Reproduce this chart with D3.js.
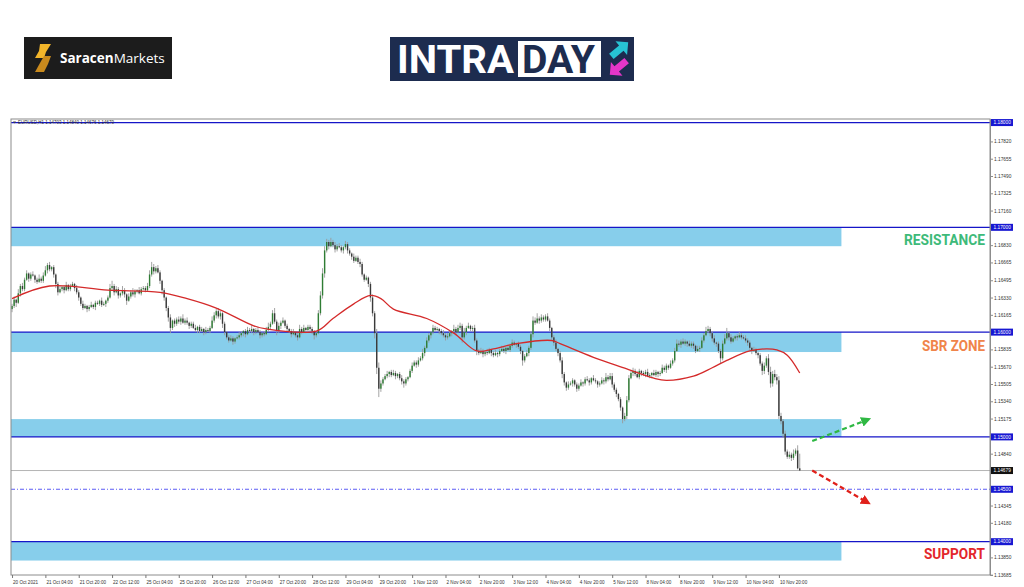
<!DOCTYPE html>
<html>
<head>
<meta charset="utf-8">
<script src="https://cdn.jsdelivr.net/npm/d3@7"></script>
<style>
  body { margin: 0; background: #fff; }
  svg { display: block; font-family: "Liberation Sans", sans-serif; }
</style>
</head>
<body>
<div id="chart"></div>
<script>
// EURUSD H1, bars counted from 20 Oct 2021 00:00 (weekends skipped)
const firstOpen = 1.1622;
const closes = [
  1.1625,1.1631,1.1628,1.1637,1.1644,1.1641,1.1650,1.1656,1.1651,1.1655,1.1654,1.1650,1.1648,1.1651,1.1649,1.1654,
  1.1659,1.1664,1.1660,1.1662,1.1655,1.1646,1.1638,1.1641,1.1643,1.1640,1.1645,1.1641,1.1644,1.1646,1.1642,1.1638,
  1.1633,1.1627,1.1623,1.1625,1.1622,1.1624,1.1626,1.1624,1.1628,1.1627,1.1630,1.1626,1.1627,1.1630,1.1633,1.1642,
  1.1644,1.1638,1.1641,1.1635,1.1637,1.1640,1.1636,1.1630,1.1634,1.1638,1.1636,1.1639,1.1640,1.1637,1.1641,1.1642,
  1.1640,1.1644,1.1655,1.1662,1.1658,1.1661,1.1657,1.1649,1.1640,1.1633,1.1623,1.1614,1.1604,1.1611,1.1608,1.1612,
  1.1610,1.1613,1.1609,1.1611,1.1609,1.1606,1.1608,1.1604,1.1602,1.1605,1.1601,1.1603,1.1600,1.1602,1.1601,1.1604,
  1.1611,1.1616,1.1620,1.1615,1.1618,1.1608,1.1600,1.1595,1.1592,1.1594,1.1591,1.1594,1.1595,1.1597,1.1599,1.1601,
  1.1598,1.1602,1.1601,1.1603,1.1600,1.1602,1.1600,1.1597,1.1599,1.1598,1.1602,1.1605,1.1608,1.1618,1.1610,1.1601,
  1.1606,1.1609,1.1611,1.1606,1.1603,1.1601,1.1598,1.1600,1.1597,1.1595,1.1603,1.1600,1.1604,1.1602,1.1605,1.1603,
  1.1601,1.1597,1.1599,1.1618,1.1635,1.1656,1.1678,1.1686,1.1682,1.1686,1.1683,1.1679,1.1682,1.1681,1.1678,1.1681,
  1.1684,1.1678,1.1675,1.1672,1.1668,1.1671,1.1667,1.1665,1.1655,1.1650,1.1652,1.1646,1.1633,1.1618,1.1599,1.1566,
  1.1546,1.1551,1.1555,1.1558,1.1560,1.1562,1.1559,1.1561,1.1558,1.1560,1.1556,1.1553,1.1551,1.1555,1.1557,1.1563,
  1.1568,1.1571,1.1569,1.1573,1.1575,1.1580,1.1585,1.1592,1.1597,1.1600,1.1604,1.1602,1.1603,1.1601,1.1599,1.1597,
  1.1595,1.1596,1.1599,1.1601,1.1603,1.1600,1.1604,1.1606,1.1595,1.1600,1.1604,1.1606,1.1603,1.1604,1.1592,1.1582,
  1.1580,1.1582,1.1579,1.1581,1.1580,1.1583,1.1580,1.1578,1.1580,1.1579,1.1582,1.1584,1.1582,1.1585,1.1583,1.1587,
  1.1590,1.1588,1.1589,1.1586,1.1582,1.1573,1.1577,1.1580,1.1585,1.1598,1.1611,1.1609,1.1613,1.1611,1.1614,1.1612,
  1.1615,1.1611,1.1604,1.1595,1.1590,1.1584,1.1580,1.1573,1.1560,1.1552,1.1547,1.1550,1.1551,1.1554,1.1550,1.1546,
  1.1549,1.1552,1.1551,1.1555,1.1554,1.1552,1.1556,1.1554,1.1553,1.1550,1.1551,1.1554,1.1553,1.1557,1.1555,1.1558,
  1.1550,1.1545,1.1541,1.1536,1.1528,1.1517,1.1520,1.1535,1.1556,1.1561,1.1563,1.1560,1.1557,1.1563,1.1561,1.1560,
  1.1562,1.1558,1.1559,1.1561,1.1559,1.1562,1.1560,1.1561,1.1566,1.1564,1.1568,1.1566,1.1570,1.1573,1.1582,1.1589,
  1.1588,1.1591,1.1589,1.1591,1.1589,1.1587,1.1589,1.1587,1.1582,1.1584,1.1585,1.1592,1.1597,1.1601,1.1603,1.1599,
  1.1594,1.1590,1.1589,1.1582,1.1575,1.1589,1.1594,1.1599,1.1595,1.1591,1.1594,1.1596,1.1595,1.1597,1.1595,1.1594,
  1.1592,1.1590,1.1585,1.1582,1.1583,1.1580,1.1578,1.1570,1.1563,1.1568,1.1575,1.1562,1.1551,1.1560,1.1557,1.1554,
  1.1520,1.1515,1.1503,1.1486,1.1481,1.1483,1.1480,1.1484,1.1487,1.1470,1.14679
];
// wick lengths in pips above / below the body
const wickUp = [
  2,3,1,4,2,3,2,3,1,2,3,1,2,4,2,3, 4,2,3,1,2,1,2,3,1,2,3,1,2,2,1,3,
  2,1,3,2,1,2,3,1,2,2,1,3,2,1,2,4, 5,2,3,2,1,4,2,1,3,2,4,2,1,3,2,2,
  2,3,4,5,3,2,3,2,1,2,1,2,3,1,2,2, 3,2,4,2,3,1,2,2,3,1,2,2,1,3,2,2,
  4,3,2,3,2,1,2,1,2,3,2,1,2,3,2,1, 2,3,2,4,1,2,3,2,1,2,3,4,2,3,5,2,
  3,2,3,1,2,1,2,3,1,2,4,2,3,1,2,2, 2,1,2,3,4,5,4,3,2,4,2,3,2,3,2,1,
  3,2,2,1,3,2,2,3,2,1,2,1,2,3,2,4, 5,3,2,2,3,1,2,3,2,1,2,3,2,2,1,2,
  3,2,2,3,2,4,2,3,2,1,3,2,2,1,2,3, 2,3,2,1,4,2,3,3,2,4,2,3,1,2,3,2,
  2,3,2,1,3,2,1,2,3,1,2,3,2,1,3,2, 3,2,1,2,2,1,2,3,2,3,4,3,5,2,3,2,
  2,3,2,1,2,3,1,2,3,2,1,3,2,2,1,2, 2,3,1,2,3,2,1,3,2,1,2,3,2,4,2,3,
  3,2,2,1,2,1,3,4,3,2,3,2,3,2,1,2, 2,3,2,1,3,2,1,2,3,2,2,1,3,2,3,4,
  3,2,3,2,1,3,2,2,1,3,2,3,2,4,3,2, 2,3,1,2,2,3,4,5,2,3,2,1,2,3,2,2,
  3,2,2,1,3,2,1,2,2,3,2,4,5,3,4,3, 4,3,2,3,2,3,2,4,2,5,14
];
const wickDn = [
  3,2,4,1,3,2,2,1,3,2,1,3,2,1,2,2, 1,3,2,2,3,4,3,1,2,3,1,2,2,1,3,2,
  3,2,2,1,3,2,1,2,3,1,2,2,1,3,2,1, 2,3,1,3,2,2,3,4,1,2,2,3,2,1,2,1,
  2,1,2,2,3,2,1,3,4,3,3,4,5,2,3,2, 2,3,1,2,2,3,2,1,2,3,2,1,3,2,1,2,
  1,2,3,2,3,4,3,2,2,1,3,2,1,2,2,3, 3,1,2,2,3,2,1,3,2,2,1,2,3,1,2,4,
  2,3,1,2,3,2,3,1,2,3,1,2,1,3,2,2, 3,4,2,1,2,3,4,2,3,1,2,3,2,1,2,3,
  2,3,2,3,2,1,2,3,2,2,1,3,4,3,5,6, 8,3,2,1,2,3,2,1,3,2,2,3,4,2,2,1,
  2,1,3,2,1,2,3,1,2,3,2,2,1,3,2,2, 3,2,1,3,2,3,1,2,5,2,3,1,2,3,2,4,
  2,1,3,2,2,1,3,2,1,3,2,1,2,3,1,2, 2,1,3,2,3,5,2,1,3,2,3,2,1,3,2,2,
  2,1,3,2,3,2,3,2,4,3,3,2,1,3,2,3, 2,1,3,2,1,3,2,1,2,3,2,1,3,2,2,1,
  3,2,3,2,3,4,2,3,2,1,3,2,1,2,3,2, 3,1,2,3,1,2,3,2,1,2,3,2,1,2,2,1,
  2,3,1,2,3,1,2,3,2,1,3,1,2,1,2,3, 3,2,3,2,5,2,1,2,3,2,1,2,3,1,2,1,
  2,3,2,3,1,2,3,2,4,3,2,3,4,3,3,4, 3,3,4,3,2,2,3,2,2,1,0
];
// moving average, read at selected bars
const maBar = [0,18,46,71,84,98,116,122,146,154,164,172,177,183,199,212,223,231,242,259,263,279,295,308,314,327,336,343,354,362,367,372,378];
const maVal = [1.1632,1.1644,1.1640,1.1638,1.1632,1.1623,1.1606,1.1603,1.1601,1.1613,1.1627,1.1635,1.1632,1.1622,1.1613,1.1599,1.1582,1.1584,1.1589,1.1592,1.1589,1.1576,1.1565,1.1556,1.1554,1.1558,1.1566,1.1573,1.1582,1.1584,1.1583,1.1578,1.1561];

const timeLabels = ["20 Oct 2021","21 Oct 04:00","21 Oct 20:00","22 Oct 12:00","25 Oct 04:00","25 Oct 20:00","26 Oct 12:00","27 Oct 04:00","27 Oct 20:00","28 Oct 12:00","29 Oct 04:00","29 Oct 20:00","1 Nov 12:00","2 Nov 04:00","2 Nov 20:00","3 Nov 12:00","4 Nov 04:00","4 Nov 20:00","5 Nov 12:00","8 Nov 04:00","8 Nov 20:00","9 Nov 12:00","10 Nov 04:00","10 Nov 20:00"];
const timeLabelBars = timeLabels.map((d, i) => i * 16);
const priceTicks = [1.17820,1.17655,1.17490,1.17325,1.17160,1.16830,1.16665,1.16495,1.16330,1.16165,1.15835,1.15670,1.15505,1.15340,1.15175,1.14840,1.14345,1.14180,1.13850,1.13685];
const levelLines = [1.18, 1.17, 1.16, 1.15, 1.14];
const dashedLevel = 1.145;
const lastPrice = 1.14679;
const zoneTop = [1.1700, 1.1600, 1.1517, 1.1400];
const zoneBottom = [1.1682, 1.1581, 1.1500, 1.1382];
const zoneNames = ["RESISTANCE", "SBR ZONE", "", "SUPPORT"];
const zoneEndBar = 398;
// projected paths drawn after the last bar
const upArrow = [[384, 1.1496], [410, 1.1516]];
const downArrow = [[384, 1.1468], [410, 1.1438]];
const header = "EURUSD,H1  1.14703 1.14840 1.14676 1.14679";

const pip = 0.0001;
const plot = {left: 11, right: 990, top: 119, bottom: 575};
const zoneColors = ["#3dba79", "#f0844a", "none", "#e3262b"];

const svg = d3.select("#chart")
  .append("svg")
    .attr("width", 1024)
    .attr("height", 587);

// ---- logos ----
const saracen = svg.append("g");
saracen.append("rect").attr("x", 24).attr("y", 37).attr("width", 148).attr("height", 42).attr("fill", "#1c1c1c");
saracen.append("path").attr("d", "M40,44 L51,44 L46,52 L44,58 L35,58 L39,51 z").attr("fill", "#f2b52a");
saracen.append("path").attr("d", "M44,56 L51,56 L48,64 L44,72 L35,72 L40,63 z").attr("fill", "#c98a1d");
saracen.append("text")
  .attr("x", 60).attr("y", 63)
  .attr("font-family", "'Open Sans', sans-serif").attr("font-size", 13.5).attr("fill", "#fff")
  .call(t => {
    t.append("tspan").attr("font-weight", 700).text("Saracen");
    t.append("tspan").attr("font-weight", 400).text("Markets");
  });

const intra = svg.append("g");
intra.append("rect").attr("x", 390).attr("y", 37).attr("width", 244).attr("height", 44).attr("fill", "#1d2c4f");
intra.append("text")
  .attr("x", 397).attr("y", 73)
  .attr("font-family", "Roboto, sans-serif").attr("font-weight", 700).attr("font-size", 38)
  .attr("fill", "#fff")
  .attr("textLength", 117).attr("lengthAdjust", "spacingAndGlyphs")
  .text("INTRA");
intra.append("rect").attr("x", 518).attr("y", 41).attr("width", 83).attr("height", 36).attr("fill", "#fff");
intra.append("text")
  .attr("x", 522).attr("y", 73)
  .attr("font-family", "Roboto, sans-serif").attr("font-weight", 700).attr("font-size", 38)
  .attr("fill", "#1d2c4f")
  .attr("textLength", 73).attr("lengthAdjust", "spacingAndGlyphs")
  .text("DAY");
const arrowShape = "-10,-3.5 3,-3.5 3,-9 12,0 3,9 3,3.5 -10,3.5";
intra.append("polygon").attr("points", arrowShape).attr("fill", "#27c3d4")
  .attr("transform", "translate(619,50) rotate(-40)");
intra.append("polygon").attr("points", arrowShape).attr("fill", "#e436c8")
  .attr("transform", "translate(619,67) rotate(140)");

// ---- scales ----
const x = d3.scaleLinear().domain([-0.5, 469.3]).range([plot.left, plot.right]);
const y = d3.scaleLinear().domain([1.13682, 1.18034]).range([plot.bottom, plot.top]);

const defs = svg.append("defs");
defs.append("clipPath").attr("id", "plotclip")
  .append("rect")
    .attr("x", plot.left).attr("y", plot.top)
    .attr("width", plot.right - plot.left).attr("height", plot.bottom - plot.top);
[["headG", "#2fb843"], ["headR", "#e0201a"]].forEach(([id, col]) => {
  defs.append("marker")
    .attr("id", id)
    .attr("viewBox", "0 0 10 10").attr("refX", 5).attr("refY", 5)
    .attr("markerWidth", 10).attr("markerHeight", 10)
    .attr("markerUnits", "userSpaceOnUse")
    .attr("orient", "auto")
    .append("path").attr("d", "M0,0 L10,5 L0,10 z").attr("fill", col);
});

const g = svg.append("g").attr("clip-path", "url(#plotclip)");

// zones
g.selectAll("rect.zone")
  .data(zoneTop)
  .join("rect")
    .attr("class", "zone")
    .attr("x", x(-0.5))
    .attr("y", d => y(d))
    .attr("width", x(zoneEndBar) - x(-0.5))
    .attr("height", (d, i) => y(zoneBottom[i]) - y(d))
    .attr("fill", "#87ceeb");

// last price line
g.append("line")
  .attr("x1", plot.left).attr("x2", plot.right)
  .attr("y1", y(lastPrice)).attr("y2", y(lastPrice))
  .attr("stroke", "#b4b4b4").attr("stroke-width", 1);

// dashed level
g.append("line")
  .attr("x1", plot.left).attr("x2", plot.right)
  .attr("y1", y(dashedLevel)).attr("y2", y(dashedLevel))
  .attr("stroke", "#5c5cf5").attr("stroke-width", 1.1)
  .attr("stroke-dasharray", "4,2,1,2");

// level lines
g.selectAll("line.level")
  .data(levelLines)
  .join("line")
    .attr("class", "level")
    .attr("x1", plot.left).attr("x2", plot.right)
    .attr("y1", d => y(d)).attr("y2", d => y(d))
    .attr("stroke", "#1515c8").attr("stroke-width", 1.3);

// candles
const bars = closes.map((c, i) => {
  const o = i === 0 ? firstOpen : closes[i - 1];
  return {i: i, o: o, c: c,
    h: Math.max(o, c) + wickUp[i] * pip,
    l: Math.min(o, c) - wickDn[i] * pip};
});
const candle = g.append("g").selectAll("g")
  .data(bars)
  .join("g");
candle.append("line")
  .attr("x1", d => x(d.i)).attr("x2", d => x(d.i))
  .attr("y1", d => y(d.h)).attr("y2", d => y(d.l))
  .attr("stroke", "#9a9a9a").attr("stroke-width", 0.9);
candle.append("rect")
  .attr("x", d => x(d.i) - 0.7)
  .attr("width", 1.4)
  .attr("y", d => y(Math.max(d.o, d.c)))
  .attr("height", d => Math.max(0.8, Math.abs(y(d.o) - y(d.c))))
  .attr("fill", d => d.c >= d.o ? "#2f7d34" : "#3a3a3a");

// moving average
g.append("path")
  .datum(maBar)
  .attr("fill", "none")
  .attr("stroke", "#d42a2a")
  .attr("stroke-width", 1.3)
  .attr("d", d3.line()
    .x(d => x(d))
    .y((d, i) => y(maVal[i]))
    .curve(d3.curveCatmullRom));

// projection arrows
g.append("path")
  .datum(upArrow)
  .attr("fill", "none").attr("stroke", "#2fb843").attr("stroke-width", 2.2)
  .attr("stroke-dasharray", "5,3")
  .attr("marker-end", "url(#headG)")
  .attr("d", d3.line().x(d => x(d[0])).y(d => y(d[1])));
g.append("path")
  .datum(downArrow)
  .attr("fill", "none").attr("stroke", "#e0201a").attr("stroke-width", 2.2)
  .attr("stroke-dasharray", "5,3")
  .attr("marker-end", "url(#headR)")
  .attr("d", d3.line().x(d => x(d[0])).y(d => y(d[1])));

// zone names
g.selectAll("text.zname")
  .data(zoneNames)
  .join("text")
    .attr("class", "zname")
    .attr("x", plot.right - 5)
    .attr("y", (d, i) => y(zoneBottom[i]) - 1.5)
    .attr("text-anchor", "end")
    .attr("font-family", "Roboto, sans-serif")
    .attr("font-weight", 700)
    .attr("font-size", 15)
    .attr("fill", (d, i) => zoneColors[i])
    .attr("textLength", d => d === "RESISTANCE" ? 81 : d === "SBR ZONE" ? 63 : 61)
    .attr("lengthAdjust", "spacingAndGlyphs")
    .text(d => d);

// header
svg.append("path").attr("d", "M13,121.5 L16,121.5 L14.5,123.5 z").attr("fill", "#444");
svg.append("text")
  .attr("x", 18).attr("y", 123.5)
  .attr("font-size", 4.5).attr("fill", "#333")
  .text(header);

// frame
svg.append("rect")
  .attr("x", plot.left).attr("y", plot.top)
  .attr("width", plot.right - plot.left).attr("height", plot.bottom - plot.top)
  .attr("fill", "none").attr("stroke", "#8c8c8c").attr("stroke-width", 1);

// price axis
const yAxis = svg.append("g")
  .attr("transform", `translate(${plot.right},0)`)
  .call(d3.axisRight(y).tickValues(priceTicks).tickSize(3).tickPadding(1).tickFormat(d3.format(".5f")));
yAxis.select(".domain").attr("stroke", "#8c8c8c");
yAxis.selectAll(".tick line").attr("stroke", "#8c8c8c");
yAxis.selectAll("text").attr("font-size", 4.8).attr("fill", "#333").attr("font-family", "'Liberation Sans', sans-serif");

const tagData = levelLines.concat([dashedLevel]).map(v => ({v: v, fill: "#1818d2"}))
  .concat([{v: lastPrice, fill: "#111"}]);
const tags = svg.append("g").selectAll("g")
  .data(tagData)
  .join("g")
    .attr("transform", d => `translate(${plot.right + 1},${y(d.v)})`);
tags.append("rect")
  .attr("x", 0).attr("y", -3.5).attr("width", 22).attr("height", 7)
  .attr("fill", d => d.fill);
tags.append("text")
  .attr("x", 2.5).attr("y", 0).attr("dy", "0.35em")
  .attr("font-size", 4.8).attr("fill", "#fff")
  .text(d => d3.format(".5f")(d.v));

// time axis
const xAxis = svg.append("g")
  .attr("transform", `translate(0,${plot.bottom})`)
  .call(d3.axisBottom(x).tickValues(timeLabelBars).tickSize(3).tickFormat((d, i) => timeLabels[i]));
xAxis.select(".domain").remove();
xAxis.selectAll(".tick line").attr("stroke", "#777");
xAxis.selectAll("text")
  .attr("text-anchor", "start").attr("dx", "0.5")
  .attr("font-size", 4.6).attr("fill", "#333").attr("font-family", "'Liberation Sans', sans-serif");
</script>
</body>
</html>
